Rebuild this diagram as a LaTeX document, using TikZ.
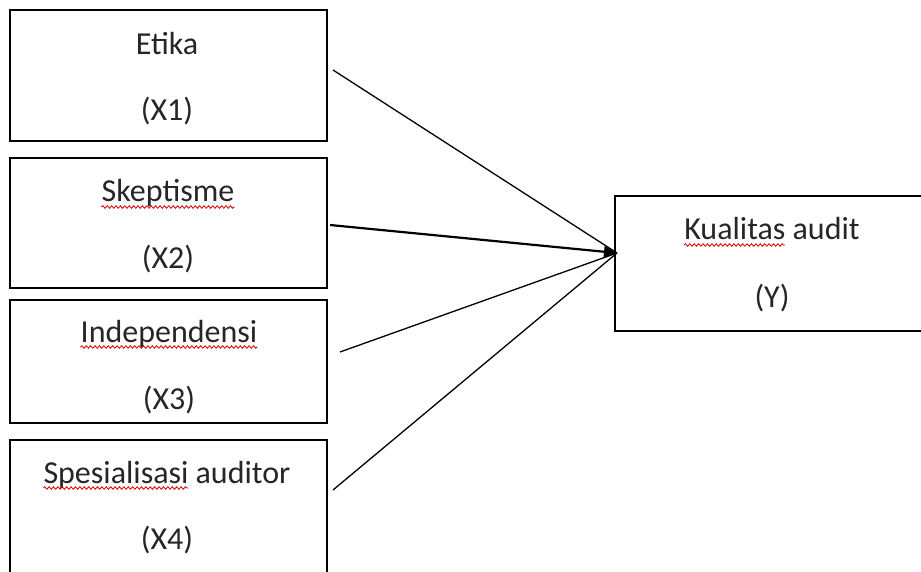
\documentclass[tikz,border=0pt]{standalone}
\usepackage{fontspec}
\setmainfont{Carlito}
\usetikzlibrary{arrows.meta,decorations.pathmorphing,calc}
\definecolor{txt}{HTML}{262626}
\newcommand\lblfont{\fontsize{32}{38}\selectfont}
\newlength\wspes
\newlength\wkual
\tikzset{
  box/.style={draw=black,line width=1.4pt,fill=white,inner sep=0pt},
  lbl/.style={font=\lblfont,text=txt,inner sep=0pt,anchor=base},
  conn/.style={draw=black,line width=1.3pt},
  wavy/.style={draw=red!85!black,line width=0.8pt,decorate,decoration={snake,amplitude=1.3pt,segment length=4.4pt}}
}
\begin{document}
\settowidth\wspes{\lblfont Spesialisasi}
\settowidth\wkual{\lblfont Kualitas}
\begin{tikzpicture}[x=1pt,y=1pt]
\useasboundingbox (0,0) rectangle (921,571);
\clip (0,0) rectangle (921,571);
\fill[white] (0,0) rectangle (921,571);
% boxes
\node[box,minimum width=317pt,minimum height=131pt] (b1) at (168.5,495.5) {};
\node[box,minimum width=317pt,minimum height=130pt] (b2) at (168.5,348) {};
\node[box,minimum width=317pt,minimum height=123pt] (b3) at (168.5,209.5) {};
\node[box,minimum width=317pt,minimum height=140pt] (b4) at (168.5,61) {};
\node[box,minimum width=320pt,minimum height=135pt] (y) at (775,307.5) {};
% labels
\node[lbl] (t1a) at (167,516) {Etika};
\node[lbl] (t1b) at (167,450) {(X1)};
\node[lbl] (t2a) at (168,369) {Skeptisme};
\node[lbl] (t2b) at (168,302) {(X2)};
\node[lbl] (t3a) at (169,229) {Independensi};
\node[lbl] (t3b) at (169,162) {(X3)};
\node[lbl] (t4a) at (167,88) {Spesialisasi auditor};
\node[lbl] (t4b) at (167,22) {(X4)};
\node[lbl] (tya) at (772,331) {Kualitas audit};
\node[lbl] (tyb) at (772,263) {(Y)};
% spell-check underlines
\draw[wavy] ($(t2a.base west)+(0,-5)$) -- ($(t2a.base east)+(0,-5)$);
\draw[wavy] ($(t3a.base west)+(0,-5)$) -- ($(t3a.base east)+(0,-5)$);
\draw[wavy] ($(t4a.base west)+(0,-5)$) -- ($(t4a.base west)+(\wspes,-5)$);
\draw[wavy] ($(tya.base west)+(0,-5)$) -- ($(tya.base west)+(\wkual,-5)$);
% connectors
\coordinate (tip) at (617,318);
\coordinate (s1) at (333,501);
\coordinate (s2) at (330,346);
\coordinate (s3) at (340,219);
\coordinate (s4) at (333,81);
\draw[conn] (s1) -- (tip);
\draw[conn] (s3) -- (tip);
\draw[conn] (s4) -- (tip);
\draw[conn,line width=2.2pt,-{Triangle[length=13pt,width=11pt]}] (s2) -- (tip);
\end{tikzpicture}
\end{document}
